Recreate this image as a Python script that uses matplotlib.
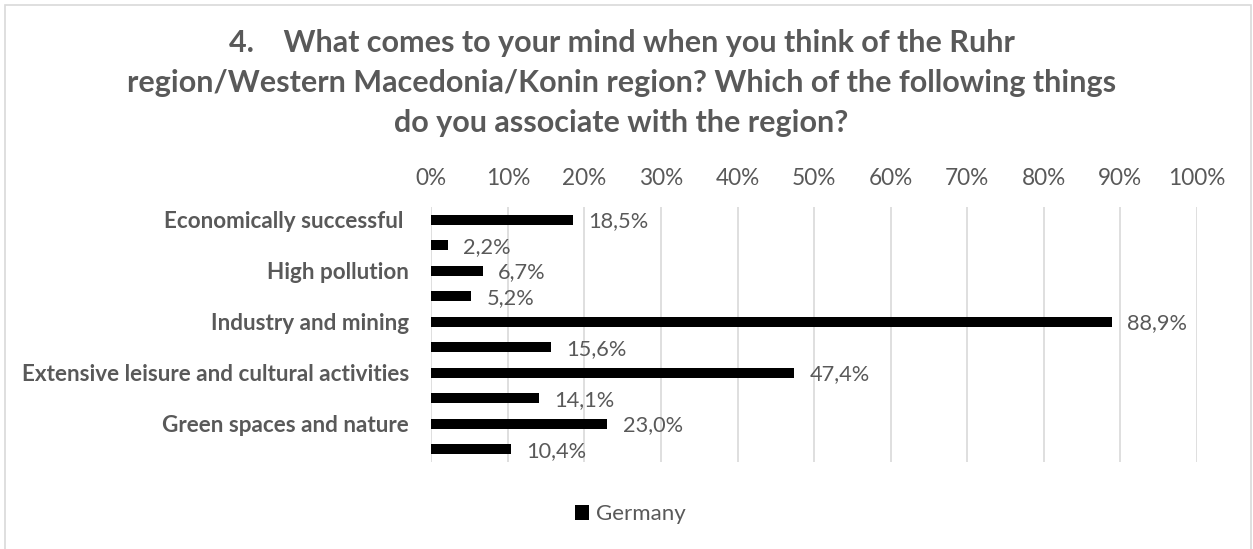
import matplotlib.pyplot as plt
from matplotlib.patches import Rectangle

# Survey answers, Germany sample (share of respondents)
categories = [
    "Economically successful ",
    "",
    "High pollution",
    "",
    "Industry and mining",
    "",
    "Extensive leisure and cultural activities",
    "",
    "Green spaces and nature",
    "",
]
germany = [18.5, 2.2, 6.7, 5.2, 88.9, 15.6, 47.4, 14.1, 23.0, 10.4]
x_ticks = [0, 10, 20, 30, 40, 50, 60, 70, 80, 90, 100]

title = ("4.    What comes to your mind when you think of the Ruhr\n"
         "region/Western Macedonia/Konin region? Which of the following things\n"
         "do you associate with the region?")

TEXT = "#595959"
GRID = "#D9D9D9"
plt.rcParams["font.family"] = ["Lato", "DejaVu Sans"]

fig = plt.figure(figsize=(12.53, 5.49), dpi=100)
ax = fig.add_axes([0.3442, 0.1585, 0.6111, 0.4645])

# outer chart frame (bottom edge runs off the page)
fig.patches.append(Rectangle((5 / 1253, -0.05), 1246 / 1253, 1.05 - 5 / 549,
                             transform=fig.transFigure, fill=False,
                             edgecolor=GRID, linewidth=1.2))

ypos = list(range(len(germany)))
bars = ax.barh(ypos, germany, height=0.39, color="black", label="Germany", zorder=3)

for bar, v in zip(bars, germany):
    ax.annotate(f"{v:.1f}%".replace(".", ","),
                xy=(bar.get_width(), bar.get_y() + bar.get_height() / 2),
                xytext=(11, -1), textcoords="offset points",
                ha="left", va="center", fontsize=15.7, color=TEXT)

ax.set_xlim(0, 100)
ax.set_ylim(len(germany) - 0.5, -0.5)
ax.set_xticks(x_ticks)
ax.set_xticklabels([f"{t}%" for t in x_ticks])
ax.xaxis.tick_top()
ax.set_yticks(ypos)
ax.set_yticklabels(categories, fontweight="bold")
ax.tick_params(axis="x", length=0, pad=13, labelsize=16.3, labelcolor=TEXT)
ax.tick_params(axis="y", length=0, pad=16, labelsize=16.2, labelcolor=TEXT)
ax.grid(axis="x", color=GRID, linewidth=1.2, zorder=0)
for side in ax.spines.values():
    side.set_visible(False)

fig.text(0.496, 0.848, title, ha="center", va="center", fontsize=22,
         fontweight="bold", color=TEXT, linespacing=1.52)

fig.legend(loc="center", bbox_to_anchor=(0.503, 0.063), frameon=False,
           fontsize=16, labelcolor=TEXT, handlelength=0.65, handleheight=0.65,
           handletextpad=0.3)

fig.savefig("out.png", dpi=100)
